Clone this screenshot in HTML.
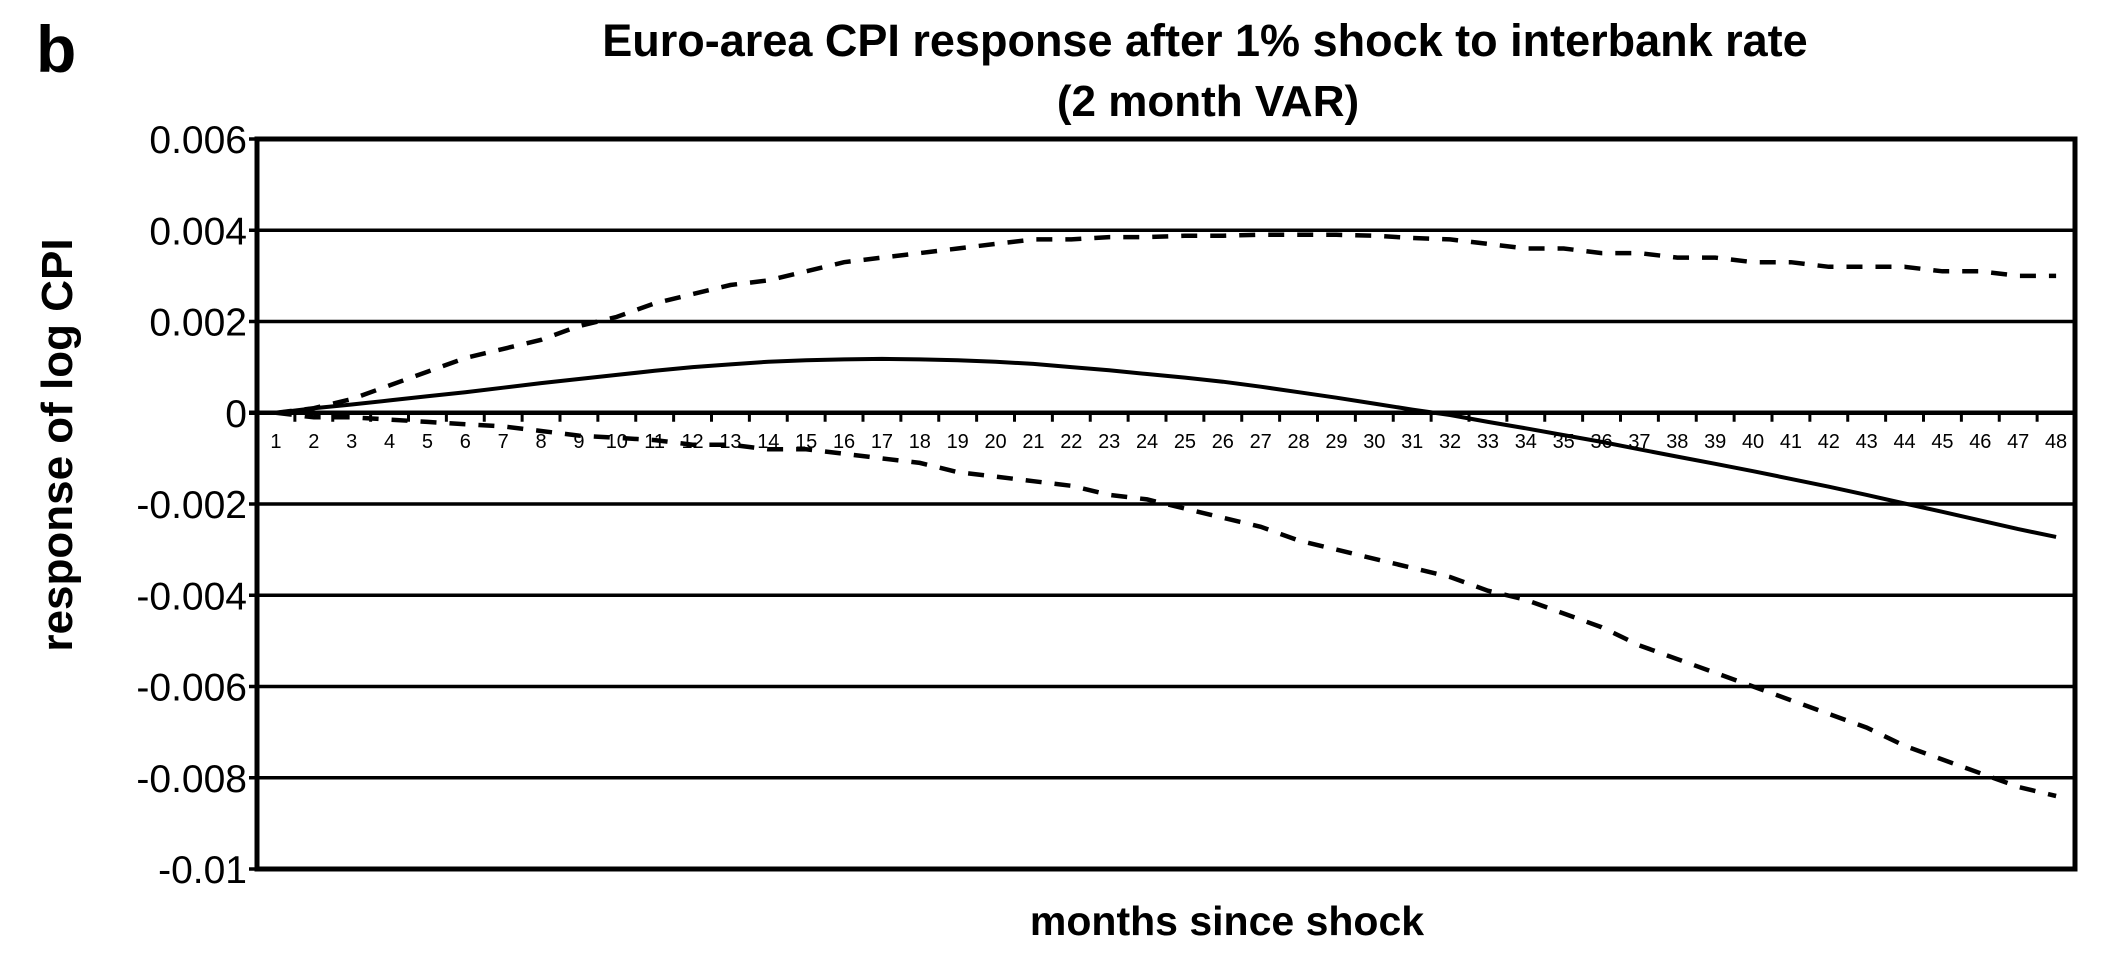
<!DOCTYPE html>
<html><head><meta charset="utf-8"><style>
html,body{margin:0;padding:0;background:#fff;}
svg{display:block;font-family:"Liberation Sans",Arial,sans-serif;}
</style></head><body>
<svg id="chart" width="2101" height="955" viewBox="0 0 2101 955" xmlns="http://www.w3.org/2000/svg">
<text x="36" y="72" font-size="66" font-weight="bold">b</text>
<text x="1205" y="56" font-size="45" font-weight="bold" text-anchor="middle">Euro-area CPI response after 1% shock to interbank rate</text>
<text x="1208" y="116" font-size="44" font-weight="bold" text-anchor="middle">(2 month VAR)</text>
<text transform="translate(72,445) rotate(-90)" font-size="44" font-weight="bold" text-anchor="middle">response of log CPI</text>
<text x="1227" y="935" font-size="41" font-weight="bold" text-anchor="middle">months since shock</text>
<g id="grid"></g><g id="series"></g><g id="ticks"></g>
</svg>
<script>
const months = Array.from({length:48},(_,i)=>String(i+1));
const yTicks = [0.006,0.004,0.002,0,-0.002,-0.004,-0.006,-0.008,-0.01];
const yTickLabels = ["0.006","0.004","0.002","0","-0.002","-0.004","-0.006","-0.008","-0.01"];
const responseMean = [0,0.0001,0.00018,0.00027,0.00036,0.00045,0.00055,0.00065,0.00074,0.00083,0.00092,0.001,0.00106,0.00112,0.00115,0.00117,0.00118,0.00117,0.00115,0.00112,0.00107,0.001,0.00093,0.00085,0.00077,0.00068,0.00057,0.00045,0.00033,0.0002,0.00007,-0.00005,-0.0002,-0.00034,-0.00049,-0.00064,-0.0008,-0.00096,-0.00112,-0.00128,-0.00145,-0.00162,-0.0018,-0.00199,-0.00217,-0.00236,-0.00255,-0.00272];
const upperBand = [0,0.0001,0.0003,0.0006,0.0009,0.0012,0.0014,0.0016,0.0019,0.0021,0.0024,0.0026,0.0028,0.0029,0.0031,0.0033,0.0034,0.0035,0.0036,0.0037,0.0038,0.0038,0.00385,0.00385,0.00388,0.00388,0.0039,0.0039,0.0039,0.00388,0.00383,0.0038,0.0037,0.0036,0.0036,0.0035,0.0035,0.0034,0.0034,0.0033,0.0033,0.0032,0.0032,0.0032,0.0031,0.0031,0.003,0.003];
const lowerBand = [0,-0.0001,-0.0001,-0.00015,-0.0002,-0.00025,-0.0003,-0.0004,-0.0005,-0.00055,-0.0006,-0.0007,-0.0007,-0.0008,-0.0008,-0.0009,-0.001,-0.0011,-0.0013,-0.0014,-0.0015,-0.0016,-0.0018,-0.0019,-0.0021,-0.0023,-0.0025,-0.0028,-0.003,-0.0032,-0.0034,-0.0036,-0.0039,-0.0041,-0.0044,-0.0047,-0.0051,-0.0054,-0.0057,-0.006,-0.0063,-0.0066,-0.0069,-0.0073,-0.0076,-0.0079,-0.0082,-0.0084];

const NS="http://www.w3.org/2000/svg";
const L=257,R=2075,T=139,B=869,yMax=0.006,yMin=-0.01;
const y=v=>T+(yMax-v)/(yMax-yMin)*(B-T);
const bw=(R-L)/months.length;
const x=i=>L+bw*(i+0.5);
function mk(tag,parent){const e=document.createElementNS(NS,tag);document.getElementById(parent).appendChild(e);return e;}

yTicks.forEach((v,i)=>{
  const ln=mk('line','grid');
  
  
  ln.setAttribute('x1',L-8);ln.setAttribute('x2',R);ln.setAttribute('y1',y(v));ln.setAttribute('y2',y(v));
  ln.setAttribute('stroke','#000');ln.setAttribute('stroke-width',v===0?4.5:3.5);
  const t=mk('text','grid');
  
  
  t.setAttribute('x',L-10);t.setAttribute('y',y(v)+14);t.setAttribute('font-size','39');t.setAttribute('text-anchor','end');
  t.textContent=yTickLabels[i];
});
const fr=mk('rect','grid');


fr.setAttribute('x',L);fr.setAttribute('y',T);fr.setAttribute('width',R-L);fr.setAttribute('height',B-T);
fr.setAttribute('fill','none');fr.setAttribute('stroke','#000');fr.setAttribute('stroke-width',5);

months.forEach((m,i)=>{
  const tk=mk('line','ticks');
  
  
  const xx=L+bw*(i+1);
  tk.setAttribute('x1',xx);tk.setAttribute('x2',xx);tk.setAttribute('y1',y(0));tk.setAttribute('y2',y(0)+9);
  tk.setAttribute('stroke','#000');tk.setAttribute('stroke-width',3);
  const t=mk('text','ticks');
  
  
  t.setAttribute('x',x(i));t.setAttribute('y',y(0)+35);t.setAttribute('font-size','20');t.setAttribute('text-anchor','middle');
  t.textContent=m;
});

function line(arr,name,dash){
  const p=mk('path','series');
  
  
  p.setAttribute('d',arr.map((v,i)=>(i?'L':'M')+x(i).toFixed(1)+','+y(v).toFixed(1)).join(''));
  p.setAttribute('fill','none');p.setAttribute('stroke','#000');p.setAttribute('stroke-width',dash?4.5:4);
  if(dash)p.setAttribute('stroke-dasharray','16 13');
}
line(upperBand,'upper-band-line',true);
line(lowerBand,'lower-band-line',true);
line(responseMean,'response-line',false);
</script>
</body></html>
